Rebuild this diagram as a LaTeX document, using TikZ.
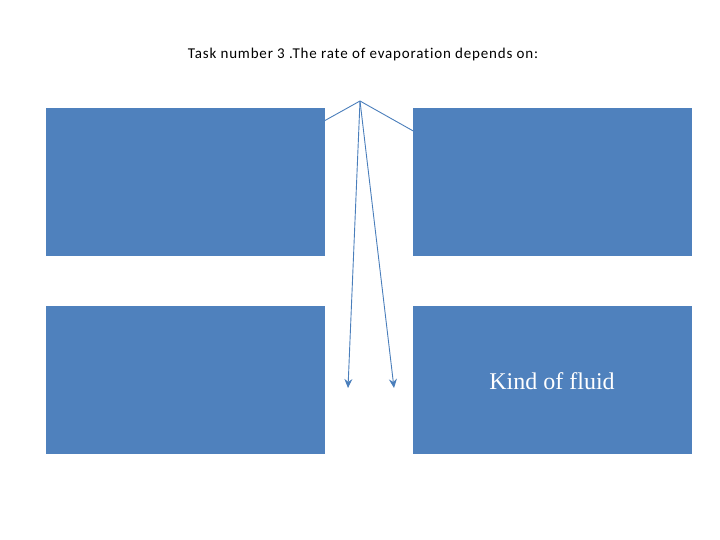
\documentclass[tikz,border=0pt]{standalone}
\usepackage{fontspec}
\setmainfont{Liberation Serif}
\newfontfamily\titlefont[LetterSpace=5.5,Ligatures=NoCommon]{Carlito}
\usetikzlibrary{arrows.meta}
\definecolor{boxblue}{HTML}{4F81BD}
\definecolor{lineblue}{HTML}{4A7EBB}
\begin{document}
\begin{tikzpicture}[x=1pt,y=-1pt]
\useasboundingbox (0,0) rectangle (720,540);
\node [font=\titlefont\fontsize{15}{18}\selectfont] (title) at (363,55) {Task number 3 .The rate of evaporation depends on:};
\coordinate (apex) at (360,101);
\coordinate (endA) at (272,150);
\coordinate (endB) at (447,150);
\coordinate (endC) at (348,388);
\coordinate (endD) at (394,388);
\draw [lineblue, line width=0.9pt, -{Stealth[length=9pt,width=8pt]}] (apex) -- (endA);
\draw [lineblue, line width=0.9pt, -{Stealth[length=9pt,width=8pt]}] (apex) -- (endB);
\node [rectangle, fill=boxblue, minimum width=279pt, minimum height=148pt, inner sep=0pt] (boxA) at (185.5,182) {};
\node [rectangle, fill=boxblue, minimum width=279pt, minimum height=148pt, inner sep=0pt] (boxB) at (552,182) {};
\node [rectangle, fill=boxblue, minimum width=279pt, minimum height=148pt, inner sep=0pt] (boxC) at (185.5,380) {};
\node [rectangle, fill=boxblue, minimum width=279pt, minimum height=148pt, inner sep=0pt] (boxD) at (552,380) {};
\node [text=white, font=\fontsize{24}{28}\selectfont] (fluid) at (552,381) {Kind of fluid};
\draw [lineblue, line width=0.9pt, -{Stealth[length=9pt,width=8pt]}] (apex) -- (endC);
\draw [lineblue, line width=0.9pt, -{Stealth[length=9pt,width=8pt]}] (apex) -- (endD);
\end{tikzpicture}
\end{document}
